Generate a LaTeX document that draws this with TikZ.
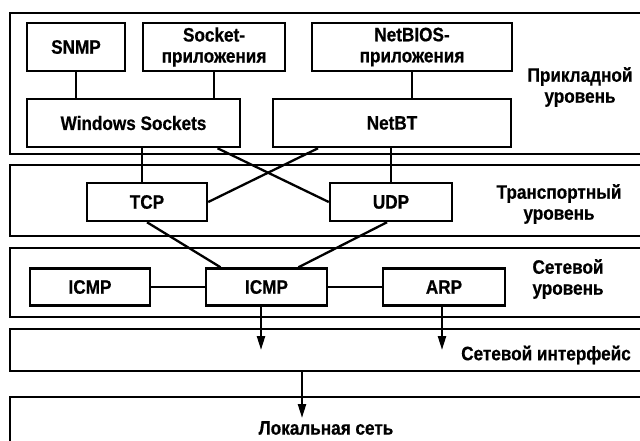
\documentclass[tikz,border=0pt]{standalone}
\usepackage{fontspec}
\newfontfamily\diafont{Liberation Sans}[FakeStretch=0.88, BoldFeatures={FakeBold=0.6}]
\usetikzlibrary{arrows.meta}
\begin{document}
\begin{tikzpicture}[x=1pt, y=-1pt,
    every node/.style={font=\diafont\bfseries\fontsize{19.5}{21}\selectfont},
    layer/.style={draw=black, line width=2.6pt, minimum width=650pt, inner sep=0pt},
    proto/.style={draw=black, line width=2.5pt, fill=white, align=center, inner sep=0pt, minimum height=48pt},
    link/.style={line width=2.3pt},
    arr/.style={line width=2.3pt, -{Triangle[length=14pt,width=8pt]}}
  ]
  \useasboundingbox (0,0) rectangle (640,440);
  \clip (0,0) rectangle (640,440);

  % layers
  \node[layer, minimum height=141pt] (app) at (335,83.5) {};
  \node[layer, minimum height=71pt] (trans) at (335,200.5) {};
  \node[layer, minimum height=69pt] (net) at (335,282.5) {};
  \node[layer, minimum height=42pt] (iface) at (335,350) {};
  \node[layer, minimum height=73pt] (lan) at (335,433.5) {};

  \node[align=center] (applbl) at (580,87) {Прикладной\\уровень};
  \node[align=center] (translbl) at (559,204) {Транспортный\\уровень};
  \node[align=center] (netlbl) at (568,279) {Сетевой\\уровень};
  \node (ifacelbl) at (546,355) {Сетевой интерфейс};
  \node (lanlbl) at (326,428) {Локальная сеть};

  % application
  \node[proto, minimum width=98pt] (snmp) at (76,47) {SNMP};
  \node[proto, minimum width=142pt] (sockapp) at (214,47) {Socket-\\приложения};
  \node[proto, minimum width=200pt] (nbapp) at (412,47) {NetBIOS-\\приложения};
  \node[proto, minimum width=213pt] (winsock) at (133.5,123) {Windows Sockets};
  \node[proto, minimum width=238pt] (netbt) at (392,123) {NetBT};

  % transport
  \node[proto, minimum width=120pt, minimum height=38pt] (tcp) at (147,202) {TCP};
  \node[proto, minimum width=122pt, minimum height=38pt] (udp) at (391,202) {UDP};

  % network
  \node[proto, minimum width=120pt, minimum height=37pt] (icmpa) at (90,287) {ICMP};
  \node[proto, minimum width=121pt, minimum height=37pt] (icmpb) at (266.5,287) {ICMP};
  \node[proto, minimum width=122pt, minimum height=37pt] (arp) at (444,287) {ARP};

  \draw[link] (snmp.south) -- (snmp.south |- winsock.north);
  \draw[link] (sockapp.south) -- (sockapp.south |- winsock.north);
  \draw[link] (nbapp.south) -- (nbapp.south |- netbt.north);
  \draw[link] ([xshift=-5pt]tcp.north |- winsock.south) -- ([xshift=-5pt]tcp.north);
  \draw[link] (udp.north |- netbt.south) -- (udp.north);
  \draw[link] ([xshift=84pt]winsock.south) -- (udp.west);
  \draw[link] ([xshift=-74pt]netbt.south) -- (tcp.east);
  \draw[link] (tcp.south) -- ([xshift=-46pt]icmpb.north);
  \draw[link] ([xshift=-4pt]udp.south) -- ([xshift=32pt]icmpb.north);
  \draw[link] (icmpa) -- (icmpb);
  \draw[link] (icmpb) -- (arp);

  \draw[arr] ([xshift=-5.5pt]icmpb.south) -- ([xshift=-5.5pt]icmpb.south |- iface.center);
  \draw[arr] ([xshift=-2pt]arp.south) -- ([xshift=-2pt]arp.south |- iface.center);
  \coordinate (lanhit) at (302,418);
  \draw[arr] (lanhit |- iface.south) -- (lanhit);
\end{tikzpicture}
\end{document}
